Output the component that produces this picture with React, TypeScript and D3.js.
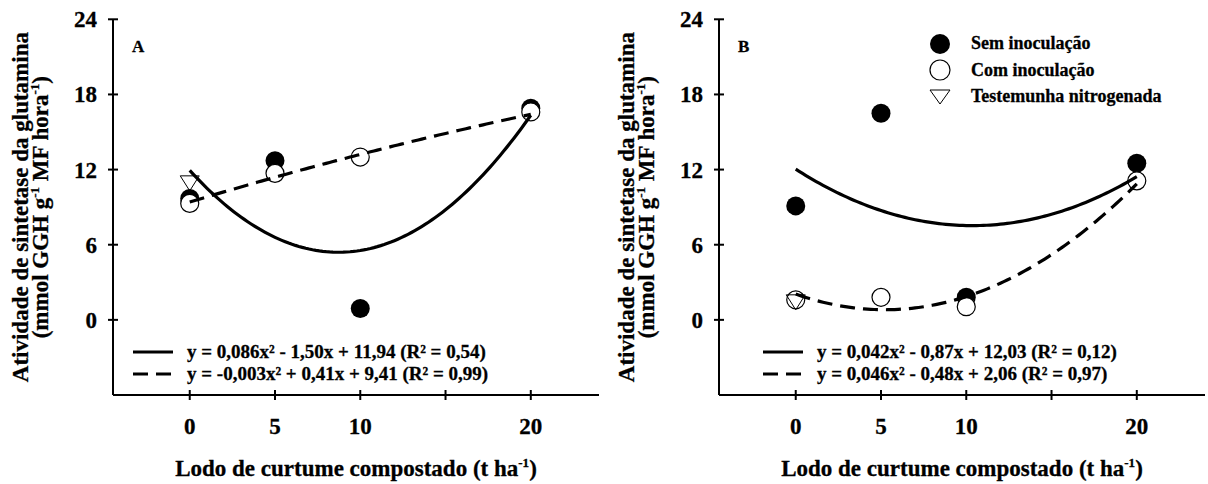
import React from "react";
import * as d3 from "d3";

// dose of composted tannery sludge (t/ha)
const doses = [0, 5, 10, 20];

// panel A
const semInocA = [9.7, 12.7, 0.9, 16.9];
const comInocA = [9.3, 11.7, 13.0, 16.6];
const testemunhaA = [10.9];
// panel B
const semInocB = [9.1, 16.5, 1.8, 12.5];
const comInocB = [1.6, 1.8, 1.05, 11.1];
const testemunhaB = [1.4];

// quadratic fits as printed in the chart: [a, b, c] for a·x² + b·x + c
const fitSemA = [0.086, -1.5, 11.94];
const fitComA = [-0.003, 0.41, 9.41];
const fitSemB = [0.042, -0.87, 12.03];
const fitComB = [0.046, -0.48, 2.06];

const eqSemA = "y = 0,086x² - 1,50x + 11,94 (R² = 0,54)";
const eqComA = "y = -0,003x² + 0,41x + 9,41 (R² = 0,99)";
const eqSemB = "y = 0,042x² - 0,87x + 12,03 (R² = 0,12)";
const eqComB = "y = 0,046x² - 0,48x + 2,06 (R² = 0,97)";

const yTicks = [0, 6, 12, 18, 24];
const xTicks = [0, 5, 10, 15, 20];
const xTickLabels = ["0", "5", "10", "", "20"];
const legendLabels = ["Sem inoculação", "Com inoculação", "Testemunha nitrogenada"];

const FONT = "'Liberation Serif', 'Times New Roman', serif";
const W = 1208;
const H = 484;

const poly = (c: number[], x: number) => c[0] * x * x + c[1] * x + c[2];

const tri = (w: number, h: number) =>
  `M${-w / 2},${-h / 2}L${w / 2},${-h / 2}L0,${h / 2}Z`;

type PanelProps = {
  offset: number;
  letter: string;
  sem: number[];
  com: number[];
  test: number[];
  fitSem: number[];
  fitCom: number[];
  eqSem: string;
  eqCom: string;
  legendShift: number;
  showLegend: boolean;
};

function Panel(p: PanelProps) {
  const left = 113 + p.offset;
  const right = 599 + p.offset;
  const top = 19.3;
  const bottom = 395;

  const x = d3.scaleLinear().domain([-4.5, 24]).range([left, right]);
  const y = d3.scaleLinear().domain([-6, 24]).range([bottom, top]);

  const xs = d3.range(0, 20.001, 0.2);
  const curve = (c: number[]) =>
    d3.line<number>().x((d) => x(d)).y((d) => y(poly(c, d)))(xs) || "";

  const midX = (left + right) / 2;
  const midY = (top + bottom) / 2;
  const lx = left + p.legendShift;

  return (
    <g fontFamily={FONT} fontWeight="bold" fill="#000">
      {/* axes */}
      <line x1={left} x2={left} y1={top} y2={bottom} stroke="#000" strokeWidth={2} />
      <line x1={left} x2={right} y1={bottom} y2={bottom} stroke="#000" strokeWidth={2} />
      <g stroke="#000" strokeWidth={0.3}>
        {yTicks.map((t) => (
          <g key={"y" + t}>
            <line x1={left - 5} x2={left + 5} y1={y(t)} y2={y(t)} strokeWidth={2} />
            <text x={left - 16} y={y(t)} dy="0.35em" textAnchor="end" fontSize={23}>
              {t}
            </text>
          </g>
        ))}
        {xTicks.map((t, i) => (
          <g key={"x" + t}>
            <line x1={x(t)} x2={x(t)} y1={bottom - 5} y2={bottom + 5} strokeWidth={2} />
            <text x={x(t)} y={434} textAnchor="middle" fontSize={23}>
              {xTickLabels[i]}
            </text>
          </g>
        ))}

        {/* axis titles */}
        <text x={midX} y={476} textAnchor="middle" fontSize={23}>
          Lodo de curtume compostado (t ha
          <tspan fontSize={13} dy={-9}>-1</tspan>
          <tspan dy={9}>)</tspan>
        </text>
        <g transform={`translate(${p.offset + 28},${midY}) rotate(-90)`}>
          <text x={0} y={0} textAnchor="middle" fontSize={23}>
            Atividade de sintetase da glutamina
          </text>
          <text x={0} y={20} textAnchor="middle" fontSize={23}>
            (mmol GGH g<tspan fontSize={13} dy={-9}>-1</tspan>
            <tspan dy={9}> MF hora</tspan>
            <tspan fontSize={13} dy={-9}>-1</tspan>
            <tspan dy={9}>)</tspan>
          </text>
        </g>

        <text x={left + 19} y={52} fontSize={17}>
          {p.letter}
        </text>
      </g>

      {/* points */}
      {doses.map((d, i) => (
        <circle key={"s" + d} cx={x(d)} cy={y(p.sem[i])} r={9.5} fill="#000" />
      ))}
      {doses.map((d, i) => (
        <circle key={"c" + d} cx={x(d)} cy={y(p.com[i])} r={9} fill="#fff" stroke="#000" strokeWidth={1.2} />
      ))}
      {p.test.map((v, i) => (
        <path
          key={"t" + i}
          d={tri(19, 15)}
          transform={`translate(${x(doses[i])},${y(v)})`}
          fill="none"
          stroke="#000"
          strokeWidth={1}
        />
      ))}

      {/* fitted curves */}
      <path d={curve(p.fitSem)} fill="none" stroke="#000" strokeWidth={3.2} />
      <path d={curve(p.fitCom)} fill="none" stroke="#000" strokeWidth={3.2} strokeDasharray="15 8" />

      {/* equation legend */}
      <line x1={lx} x2={lx + 40} y1={352} y2={352} stroke="#000" strokeWidth={3.2} />
      <line x1={lx} x2={lx + 38} y1={374} y2={374} stroke="#000" strokeWidth={3.2} strokeDasharray="15 8" />
      <g stroke="#000" strokeWidth={0.3}>
        <text x={lx + 54} y={358} fontSize={19}>
          {p.eqSem}
        </text>
        <text x={lx + 54} y={380} fontSize={19}>
          {p.eqCom}
        </text>
      </g>

      {p.showLegend && (
        <g>
          <circle cx={940} cy={44} r={10} fill="#000" />
          <circle cx={940} cy={70} r={10} fill="#fff" stroke="#000" strokeWidth={1.2} />
          <path d={tri(20, 14)} transform="translate(940,97)" fill="none" stroke="#000" strokeWidth={1} />
          {legendLabels.map((l, i) => (
            <text key={l} x={971} y={49 + i * 26.5} fontSize={18} stroke="#000" strokeWidth={0.3}>
              {l}
            </text>
          ))}
        </g>
      )}
    </g>
  );
}

export default function App() {
  return (
    <svg
      width={W}
      height={H}
      style={{ position: "absolute", left: 0, top: 0, display: "block", background: "#fff" }}
    >
      <rect width={W} height={H} fill="#fff" />
      <Panel
        offset={0}
        letter="A"
        sem={semInocA}
        com={comInocA}
        test={testemunhaA}
        fitSem={fitSemA}
        fitCom={fitComA}
        eqSem={eqSemA}
        eqCom={eqComA}
        legendShift={20}
        showLegend={false}
      />
      <Panel
        offset={606}
        letter="B"
        sem={semInocB}
        com={comInocB}
        test={testemunhaB}
        fitSem={fitSemB}
        fitCom={fitComB}
        eqSem={eqSemB}
        eqCom={eqComB}
        legendShift={44}
        showLegend={true}
      />
    </svg>
  );
}
